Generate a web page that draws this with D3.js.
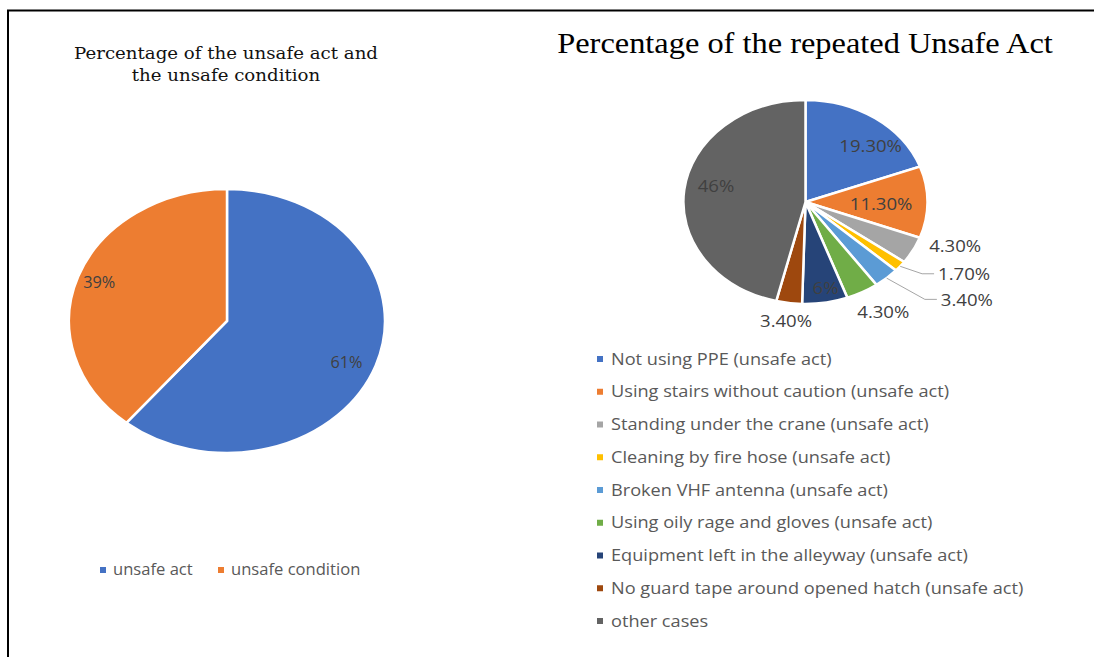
<!DOCTYPE html>
<html>
<head>
<meta charset="utf-8">
<script src="https://cdn.jsdelivr.net/npm/d3@7"></script>
<style>
  body { margin: 0; background: #fff; }
  svg { display: block; }
  .lbl { font-family: "Open Sans", sans-serif; fill: #404040; }
  .leg { font-family: "Open Sans", sans-serif; fill: #595959; }
</style>
</head>
<body>
<div id="chart"></div>
<script>
// left pie data
var actCategories = ["unsafe act", "unsafe condition"];
var actValues = [61, 39];
var actLabels = ["61%", "39%"];
var actColors = ["#4472C4", "#ED7D31"];

// right pie data
var repCategories = [
    "Not using PPE (unsafe act)",
    "Using stairs without caution (unsafe act)",
    "Standing under the crane (unsafe act)",
    "Cleaning by fire hose (unsafe act)",
    "Broken VHF antenna (unsafe act)",
    "Using oily rage and gloves (unsafe act)",
    "Equipment left in the alleyway (unsafe act)",
    "No guard tape around opened hatch (unsafe act)",
    "other cases"
];
var repValues = [19.3, 11.3, 4.3, 1.7, 3.4, 4.3, 6, 3.4, 46];
var repLabels = ["19.30%", "11.30%", "4.30%", "1.70%", "3.40%", "4.30%", "6%", "3.40%", "46%"];
var repColors = ["#4472C4", "#ED7D31", "#A5A5A5", "#FFC000", "#5B9BD5", "#70AD47", "#264478", "#9E480E", "#636363"];

// label placement: radius factor, angle shift (deg), leader line
var actLabelPos = [{ r: 0.82, da: 3 }, { r: 0.86, da: 0 }];
var repLabelPos = [
    { r: 0.76, da: 9.8 }, { r: 0.62, da: 1.8 }, { r: 1.30, da: -8.9 },
    { r: 1.30, da: -5.8, leader: true }, { r: 1.47, da: -7.3, leader: true },
    { r: 1.26, da: -2.6 }, { r: 0.86, da: -1.8 }, { r: 1.18, da: 0 }, { r: 0.75, da: 5 }
];

var W = 1094, H = 657;
var svg = d3.select("#chart").append("svg")
    .attr("width", W)
    .attr("height", H);

// the picture is a bit wider than tall, so text gets a horizontal stretch
function stretch(sel, sx) {
    var x = +sel.attr("x"), y = +sel.attr("y");
    sel.attr("x", 0).attr("y", 0)
        .attr("transform", "translate(" + x + "," + y + ") scale(" + sx + ",1)");
    return sel;
}

// frame
svg.append("path")
    .attr("d", "M8," + H + " L8,10.5 L" + W + ",10.5")
    .attr("fill", "none")
    .attr("stroke", "#000")
    .attr("stroke-width", 2);

function drawPie(cfg) {
    var g = svg.append("g")
        .attr("transform", "translate(" + cfg.cx + "," + cfg.cy + ")");
    var pie = d3.pie().sort(null).value(function(d) { return d; });
    var arcs = pie(cfg.values);
    var arc = d3.arc().innerRadius(0).outerRadius(1);

    g.append("g")
        .attr("transform", "scale(" + cfg.rx + "," + cfg.ry + ")")
        .selectAll("path")
        .data(arcs)
        .enter()
        .append("path")
        .attr("d", arc)
        .attr("fill", function(d, i) { return cfg.colors[i]; })
        .attr("stroke", "#fff")
        .attr("stroke-width", 2.5)
        .attr("vector-effect", "non-scaling-stroke");

    function pt(a, r) {
        return [Math.sin(a) * r * cfg.rx, -Math.cos(a) * r * cfg.ry];
    }

    arcs.forEach(function(d, i) {
        var lp = cfg.labelPos[i];
        var mid = (d.startAngle + d.endAngle) / 2;
        var p = pt(mid + lp.da * Math.PI / 180, lp.r);
        if (lp.leader) {
            var o = pt(mid, 1.0);
            g.append("polyline")
                .attr("points", [o, [p[0] - 16, p[1] - 1], [p[0] - 4, p[1] - 1]].map(function(q) { return q.join(","); }).join(" "))
                .attr("fill", "none")
                .attr("stroke", "#a6a6a6")
                .attr("stroke-width", 1);
        }
        var t = g.append("text")
            .attr("class", "lbl")
            .attr("x", p[0])
            .attr("y", p[1])
            .attr("dy", "0.35em")
            .attr("text-anchor", lp.leader ? "start" : "middle")
            .style("font-size", cfg.labelSize + "px")
            .text(cfg.labels[i]);
        stretch(t, cfg.labelStretch);
    });
}

drawPie({ cx: 227, cy: 321, rx: 158, ry: 132, values: actValues, colors: actColors,
    labels: actLabels, labelPos: actLabelPos, labelSize: 15.5, labelStretch: 1.05 });
drawPie({ cx: 805.5, cy: 202, rx: 122, ry: 102, values: repValues, colors: repColors,
    labels: repLabels, labelPos: repLabelPos, labelSize: 16, labelStretch: 1.16 });

// titles
stretch(svg.append("text")
    .attr("x", 226).attr("y", 59)
    .attr("text-anchor", "middle")
    .style("font-family", "'DejaVu Serif', serif")
    .style("font-size", "17px")
    .style("fill", "#111")
    .text("Percentage of the unsafe act and"), 1.07);
stretch(svg.append("text")
    .attr("x", 226).attr("y", 81)
    .attr("text-anchor", "middle")
    .style("font-family", "'DejaVu Serif', serif")
    .style("font-size", "17px")
    .style("fill", "#111")
    .text("the unsafe condition"), 1.07);
stretch(svg.append("text")
    .attr("x", 805).attr("y", 53)
    .attr("text-anchor", "middle")
    .style("font-family", "'Liberation Serif', serif")
    .style("font-size", "30px")
    .style("fill", "#000")
    .text("Percentage of the repeated Unsafe Act"), 1.08);

// left legend
var legX = [100, 218];
var leftLeg = svg.append("g");
actCategories.forEach(function(c, i) {
    leftLeg.append("rect")
        .attr("x", legX[i]).attr("y", 567)
        .attr("width", 6).attr("height", 6)
        .attr("fill", actColors[i]);
    stretch(leftLeg.append("text")
        .attr("class", "leg")
        .attr("x", legX[i] + 13).attr("y", 570)
        .attr("dy", "0.35em")
        .style("font-size", "15.5px")
        .text(c), 1.07);
});

// right legend
var ly = d3.scalePoint().domain(repCategories).range([359, 621]);
var rightLeg = svg.append("g");
repCategories.forEach(function(c, i) {
    rightLeg.append("rect")
        .attr("x", 597).attr("y", ly(c) - 3)
        .attr("width", 6).attr("height", 6)
        .attr("fill", repColors[i]);
    stretch(rightLeg.append("text")
        .attr("class", "leg")
        .attr("x", 611).attr("y", ly(c))
        .attr("dy", "0.35em")
        .style("font-size", "16px")
        .text(c), 1.135);
});
</script>
</body>
</html>
